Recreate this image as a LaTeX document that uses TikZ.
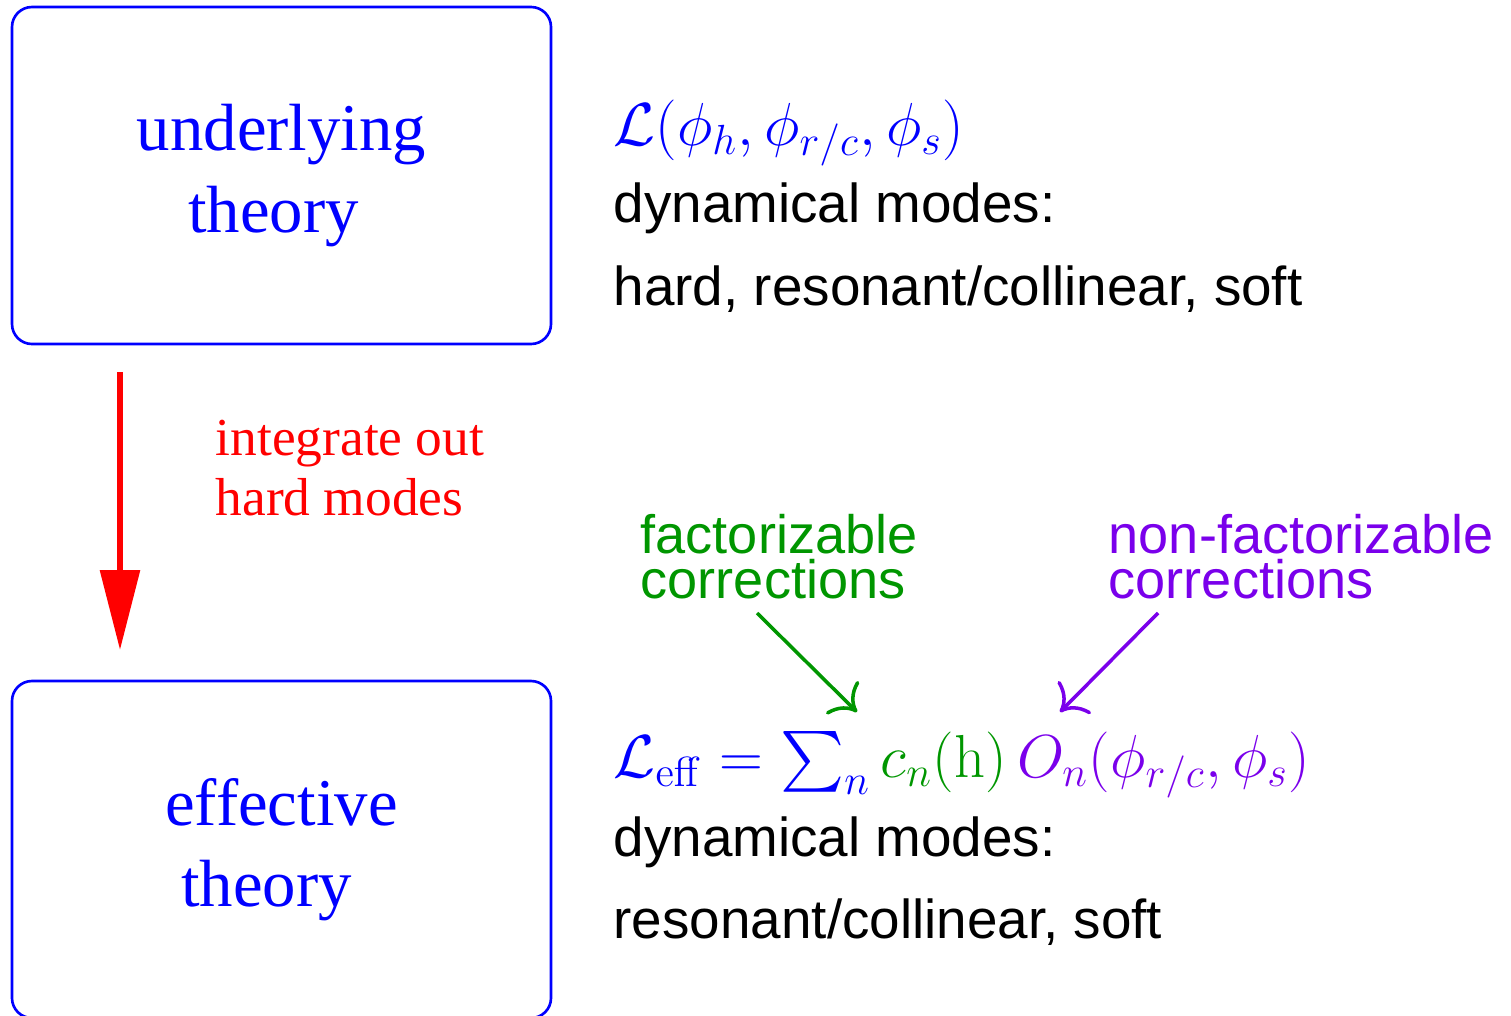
\documentclass[tikz,border=0pt]{standalone}
\usepackage[no-math]{fontspec}
\usepackage{amsmath}
\usepackage{tikz}
\usetikzlibrary{arrows.meta, positioning}
\newfontfamily\timesfont{Liberation Serif}
\newfontfamily\arialfont{Liberation Sans}
\definecolor{efttheory}{RGB}{0, 0, 255}
\definecolor{eftred}{RGB}{255, 0, 0}
\definecolor{eftgreen}{RGB}{0, 150, 0}
\definecolor{eftpurple}{RGB}{122, 0, 235}

\begin{document}
\begin{tikzpicture}[
    theorybox/.style={draw=efttheory, line width=0.75pt, rounded corners=0.2cm,
        minimum width=5.39cm, minimum height=3.37cm, align=center, text=efttheory,
        font=\timesfont\fontsize{19}{23.2}\selectfont},
    modetext/.style={anchor=base west, inner sep=0pt, font=\arialfont\fontsize{15.6}{18}\selectfont},
    mathtext/.style={anchor=base west, inner sep=0pt, font=\fontsize{17.4}{20}\selectfont},
    corrtext/.style={anchor=base west, inner sep=0pt, align=left,
        font=\arialfont\fontsize{15.4}{12.8}\selectfont},
    corrarrow/.style={line width=1pt, -{To[length=2.2mm, width=4.6mm]}}
]
\useasboundingbox (0,0) rectangle (15.11,10.15);

% Boxes
\node[theorybox] (underlying) at (2.815, 8.395) {underlying\\theory\hspace*{0.16cm}};
\node[theorybox] (effective) at (2.815, 1.655) {effective\\theory\hspace*{0.3cm}};

% Integrating out
\coordinate (intstart) at (1.20, 6.43);
\coordinate (intend) at (1.20, 3.65);
\draw[eftred, line width=1.7pt, -{Triangle[width=0.39cm, length=0.80cm]}] (intstart) -- (intend);
\node[anchor=base west, inner sep=0pt, align=left, text=eftred,
      font=\timesfont\fontsize{15.2}{17}\selectfont] (intout) at (2.15, 5.00) {integrate out\\hard modes};

% Underlying theory
\node[mathtext, text=efttheory] (lagfull) at (6.13, 8.70) {$\mathcal{L}(\phi_h,\phi_{r/c},\phi_s)$};
\node[modetext] (modesfull) at (6.13, 7.93) {dynamical modes:};
\node[modetext] (listfull) at (6.13, 7.10) {hard, resonant/collinear, soft};

% Effective theory
\node[mathtext] (lageff) at (6.13, 2.38) {$\color{efttheory}\mathcal{L}_{\rm eff}=\sum_n
    \color{eftgreen}c_n(\mathrm{h})\,\color{eftpurple}O_n(\phi_{r/c},\phi_s)$};
\node[modetext] (modeseff) at (6.13, 1.59) {dynamical modes:};
\node[modetext] (listeff) at (6.13, 0.77) {resonant/collinear, soft};

% Corrections
\node[corrtext, text=eftgreen] (factor) at (6.40, 4.17) {factorizable\\corrections};
\node[corrtext, text=eftpurple] (nonfactor) at (11.08, 4.17) {non-factorizable\\corrections};
\coordinate (factorstart) at (7.57, 4.02);
\coordinate (factorend) at (8.57, 3.03);
\coordinate (nonfactorstart) at (11.58, 4.02);
\coordinate (nonfactorend) at (10.60, 3.03);
\draw[corrarrow, eftgreen] (factorstart) -- (factorend);
\draw[corrarrow, eftpurple] (nonfactorstart) -- (nonfactorend);

\end{tikzpicture}
\end{document}
